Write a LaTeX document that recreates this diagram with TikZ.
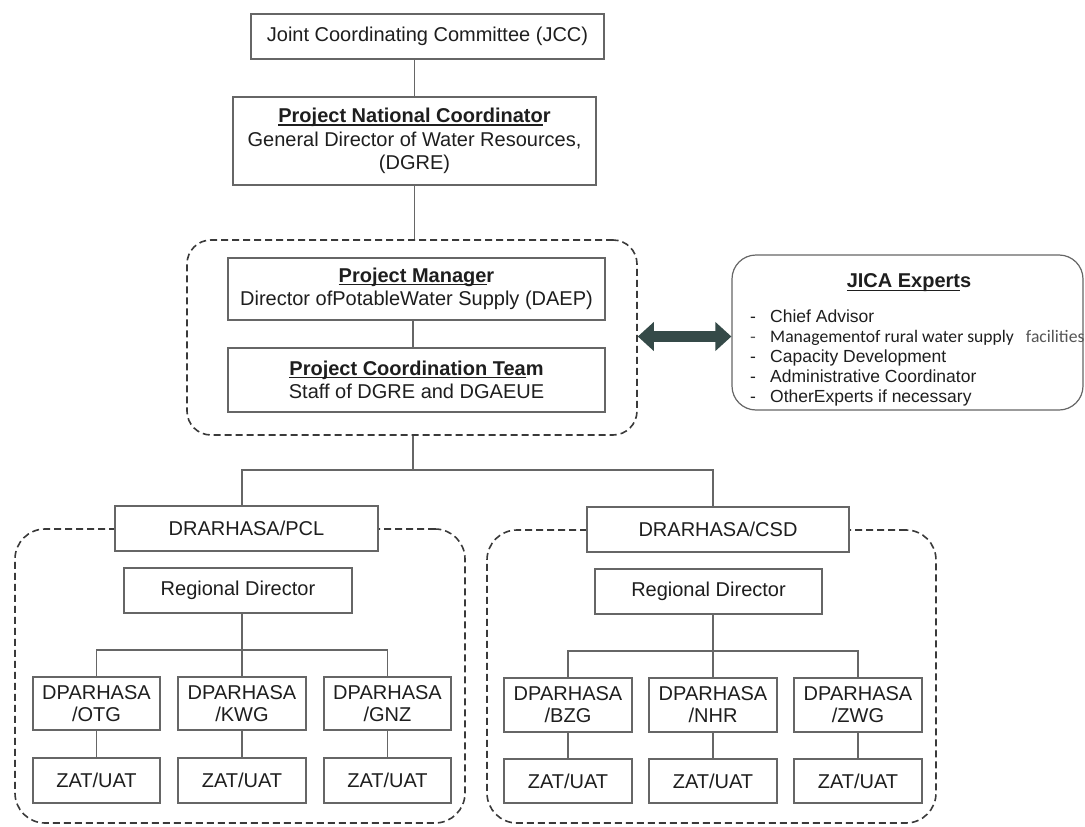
\documentclass[tikz,border=0pt]{standalone}
\usepackage{fontspec}
\setmainfont{Liberation Sans}
\newfontfamily\calibfont{Carlito}
\usetikzlibrary{arrows.meta,calc}
\definecolor{textc}{HTML}{1E1E1E}
\definecolor{linec}{HTML}{666666}
\definecolor{dashc}{HTML}{3A3A3A}
\definecolor{arrowc}{HTML}{354A48}
\definecolor{greytext}{HTML}{555555}
\newcommand\myul[1]{\setbox0\hbox{#1}\rlap{\rule[-3pt]{\wd0}{1.3pt}}\box0}
\begin{document}
\begin{tikzpicture}[x=1pt,y=-1pt,
  box/.style={draw=linec, line width=1.2pt, fill=white, inner sep=0pt, text=textc,
    font=\fontsize{20}{23.5}\selectfont, align=center},
  conn/.style={draw=linec, line width=1.2pt},
  grp/.style={draw=dashc, line width=1.6pt, dash pattern=on 7pt off 4pt, rounded corners=30pt, inner sep=0pt},
  item/.style={anchor=base west, inner sep=0pt, text=textc, font=\fontsize{17.5}{20}\selectfont},
]
\useasboundingbox (0,0) rectangle (1085,827);
\fill[white] (0,0) rectangle (1085,827);

% dashed groups (behind)
\node[grp, rounded corners=24pt, minimum width=450, minimum height=195] (mid) at (412,337.5) {};
\node[grp, minimum width=450, minimum height=294] (gl) at (240,676) {};
\node[grp, minimum width=449, minimum height=293] (gr) at (711.5,676.5) {};

% top
\node[box, minimum width=353, minimum height=45] (jcc) at (427.5,36.5) {Joint Coordinating Committee (JCC)};
\node[box, minimum width=363, minimum height=88] (pnc) at (414.5,141) {\textbf{\myul{Project National Coordinato}r}\\General Director of Water Resources,\\(DGRE)};
\node[box, minimum width=377, minimum height=62] (pm) at (416.5,289) {\textbf{\myul{Project Manage}r}\\Director ofPotableWater Supply (DAEP)};
\node[box, minimum width=377, minimum height=64] (pct) at (416.5,380) {\textbf{\myul{Project Coordination Tea}m}\\Staff of DGRE and DGAEUE};

% JICA
\node[draw=linec, line width=1.2pt, rounded corners=24pt, fill=white, minimum width=351, minimum height=155, inner sep=0pt] (jica) at (907.5,332.5) {};
\node[inner sep=0pt, text=textc, font=\fontsize{20}{24}\selectfont\bfseries] (jt) at (909,283) {\myul{JICA Expert}s};
\node[item] (d1) at (750,322) {-};
\node[item] (i1) at (770,322) {Chief Advisor};
\node[item, text=greytext] (d2) at (750,342) {-};
\node[item, font=\fontsize{17.6}{20}\calibfont] (i2) at (770,342) {Managementof rural water supply\hspace{12pt}{\color{greytext}facilities}};
\node[item] (d3) at (750,362) {-};
\node[item] (i3) at (770,362) {Capacity Development};
\node[item] (d4) at (750,382) {-};
\node[item] (i4) at (770,382) {Administrative Coordinator};
\node[item] (d5) at (750,402) {-};
\node[item] (i5) at (770,402) {OtherExperts if necessary};

% double arrow
\draw[arrowc, line width=11pt, {Triangle[length=16pt,width=28pt]}-{Triangle[length=16pt,width=28pt]}]
  ($(mid.east)+(0,-1)$) -- ($(mid.east -| jica.west)+(0,-1)$);

% second level
\node[box, minimum width=263, minimum height=45] (pcl) at (246.5,528.5) {DRARHASA/PCL};
\node[box, minimum width=262, minimum height=45] (csd) at (718,529.5) {DRARHASA/CSD};
\node[box, minimum width=228, minimum height=45] (rdl) at (238,590.5) {Regional Director};
\node[box, minimum width=227, minimum height=45] (rdr) at (708.5,591.5) {Regional Director};

% left third level
\node[box, minimum width=127, minimum height=53, font=\fontsize{20}{22}\selectfont] (otg) at (96.5,703.5) {DPARHASA\\/OTG};
\node[box, minimum width=128, minimum height=53, font=\fontsize{20}{22}\selectfont] (kwg) at (242,703.5) {DPARHASA\\/KWG};
\node[box, minimum width=127, minimum height=53, font=\fontsize{20}{22}\selectfont] (gnz) at (387.5,703.5) {DPARHASA\\/GNZ};
\node[box, minimum width=127, minimum height=45] (zl1) at (96.5,780.5) {ZAT/UAT};
\node[box, minimum width=128, minimum height=45] (zl2) at (242,780.5) {ZAT/UAT};
\node[box, minimum width=127, minimum height=45] (zl3) at (387.5,780.5) {ZAT/UAT};

% right third level
\node[box, minimum width=128, minimum height=54, font=\fontsize{20}{22}\selectfont] (bzg) at (568,705) {DPARHASA\\/BZG};
\node[box, minimum width=128, minimum height=54, font=\fontsize{20}{22}\selectfont] (nhr) at (713,705) {DPARHASA\\/NHR};
\node[box, minimum width=128, minimum height=54, font=\fontsize{20}{22}\selectfont] (zwg) at (858,705) {DPARHASA\\/ZWG};
\node[box, minimum width=128, minimum height=44] (zr1) at (568,781) {ZAT/UAT};
\node[box, minimum width=128, minimum height=44] (zr2) at (713,781) {ZAT/UAT};
\node[box, minimum width=128, minimum height=44] (zr3) at (858,781) {ZAT/UAT};

% connectors
\coordinate (tj) at (413,470);
\coordinate (pclj) at (242,470);
\coordinate (csdj) at (713,470);
\coordinate (lbar) at (242,650);
\coordinate (rbar) at (713,651);
\draw[conn] (jcc.south -| pnc.north) -- (pnc.north);
\draw[conn] (pnc.south) -- (pnc.south |- mid.north);
\draw[conn] (pm.south -| tj) -- (pct.north -| tj);
\draw[conn] (mid.south -| tj) -- (tj);
\draw[conn] (pclj |- pcl.north) -- (pclj) -- (csdj) -- (csdj |- csd.north);
\draw[conn] (lbar |- rdl.south) -- (lbar);
\draw[conn] (otg.north) |- (lbar) -| (gnz.north);
\draw[conn] (lbar) -- (kwg.north);
\draw[conn] (rbar |- rdr.south) -- (rbar);
\draw[conn] (bzg.north) |- (rbar) -| (zwg.north);
\draw[conn] (rbar) -- (nhr.north);
\draw[conn] (otg) -- (zl1);
\draw[conn] (kwg) -- (zl2);
\draw[conn] (gnz) -- (zl3);
\draw[conn] (bzg) -- (zr1);
\draw[conn] (nhr) -- (zr2);
\draw[conn] (zwg) -- (zr3);
\end{tikzpicture}
\end{document}
